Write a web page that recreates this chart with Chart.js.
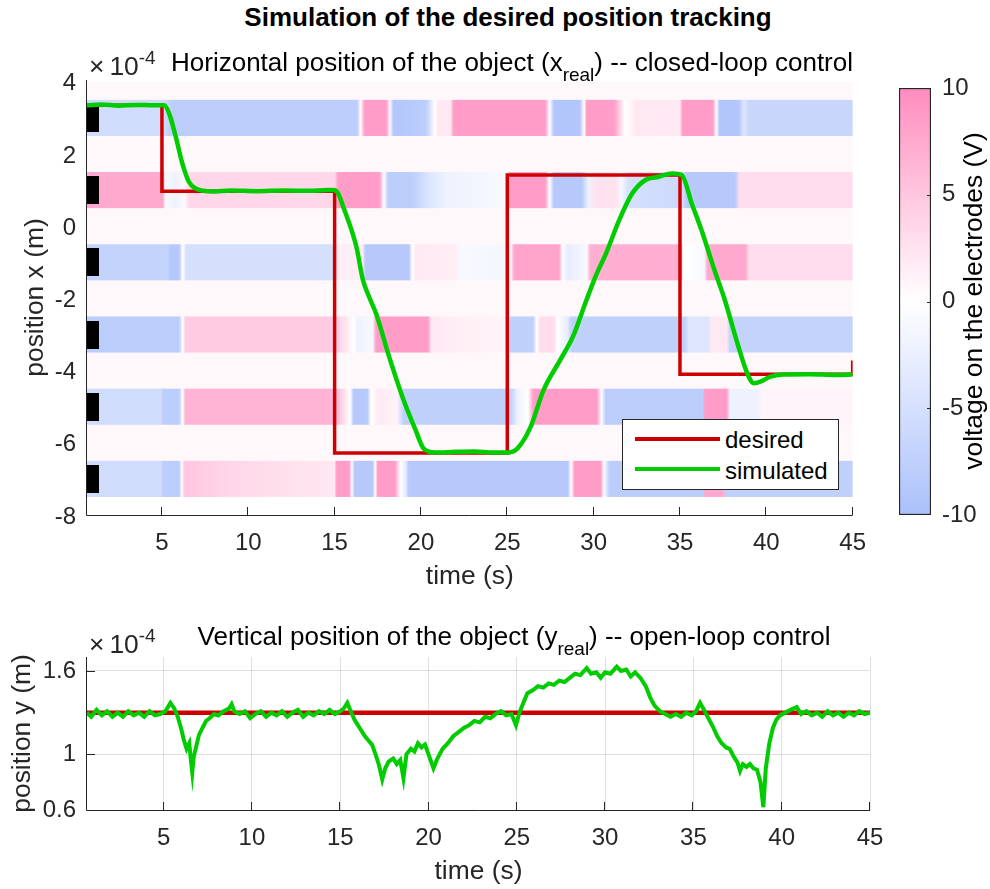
<!DOCTYPE html>
<html>
<head>
<meta charset="utf-8">
<script src="https://cdn.jsdelivr.net/npm/chart.js@4.4.1/dist/chart.umd.min.js"></script>
<style>
  html, body { margin: 0; padding: 0; background: #fff; }
  body { width: 990px; height: 889px; position: relative; overflow: hidden;
         font-family: 'Liberation Sans', Arial, sans-serif; color: #000; }
  canvas { position: absolute; }
  .txt { position: absolute; white-space: nowrap; line-height: 1; }
  .sub { position: relative; top: 10px; font-size: 19px; }
  .sup { position: relative; top: -11px; font-size: 19px; }
  #legend { position: absolute; left: 622px; top: 419px; width: 215px; height: 69px;
            border: 1px solid #262626; background: #fff; }
  #legend .ln { position: absolute; left: 12px; width: 85px; height: 4px; }
  #legend .lb { position: absolute; left: 102px; font-size: 24px; line-height: 1; color: #000; }
</style>
</head>
<body>
<canvas id="xChart" width="880" height="539" style="left:0;top:54px"></canvas>
<canvas id="cbar" width="110" height="481" style="left:880px;top:60px"></canvas>
<canvas id="yChart" width="990" height="269" style="left:0;top:620px"></canvas>

<div class="txt" style="left:208px;top:4px;width:600px;text-align:center;font-weight:bold;font-size:26px">Simulation of the desired position tracking</div>
<div class="txt" style="left:162px;top:49px;width:700px;text-align:center;font-size:26px">Horizontal position of the object (x<span class="sub">real</span>) -- closed-loop control</div>
<div class="txt" style="left:89px;top:53px;font-size:26.4px;color:#262626">×<span style="margin-left:5px">10</span><span class="sup">-4</span></div>
<div class="txt" style="left:164px;top:623px;width:700px;text-align:center;font-size:26px">Vertical position of the object (y<span class="sub">real</span>) -- open-loop control</div>
<div class="txt" style="left:89px;top:631px;font-size:26.4px;color:#262626">×<span style="margin-left:5px">10</span><span class="sup">-4</span></div>
<div class="txt" style="left:773px;top:286px;width:400px;text-align:center;font-size:26.4px;line-height:30px;transform:rotate(-90deg);color:#000">voltage on the electrodes (V)</div>

<div id="legend">
  <span class="ln" style="top:17px;background:#cc0000"></span>
  <span class="lb" style="top:8px">desired</span>
  <span class="ln" style="top:47px;background:#00cc00"></span>
  <span class="lb" style="top:39px">simulated</span>
</div>

<script>
// Position tracking figure: x position over an electrode voltage map (top),
// colorbar for the voltages, and the open-loop y position (bottom).

const tMin = 0.66;
const tMax = 45;
const timeTicks = [5, 10, 15, 20, 25, 30, 35, 40, 45];
const posXTicks = [-8, -6, -4, -2, 0, 2, 4];
const posYTicks = [0.6, 1, 1.6];
const voltTicks = [-10, -5, 0, 5, 10];

// desired / simulated x position, ×1e-4 m, as [time, value]
const desiredX = [[0.66, 3.35], [5, 3.35], [5, 0.97], [15, 0.97], [15, -6.28], [25, -6.28],
  [25, 1.42], [35, 1.42], [35, -4.1], [45, -4.1], [45, -3.72]];
const simulatedX = [[0.66, 3.35], [1.5, 3.37], [2.5, 3.34], [3.5, 3.36], [4.5, 3.35], [5.13, 3.35],
  [5.42, 3.12], [5.8, 2.48], [6.18, 1.74], [6.56, 1.23], [6.94, 1.05], [7.4, 0.98], [7.9, 0.96],
  [9, 0.99], [10.5, 0.97], [12, 0.99], [13.5, 0.98], [14.6, 1.0], [14.93, 1.0], [15.2, 0.91],
  [15.5, 0.54], [16.26, -0.57], [16.64, -1.49], [17.0, -1.96], [17.4, -2.42], [18.16, -3.62],
  [18.93, -4.73], [19.69, -5.65], [20.16, -6.16], [20.83, -6.27], [22, -6.25], [23.1, -6.24],
  [24.2, -6.27], [25.0, -6.27], [25.58, -6.16], [26.35, -5.56], [27.1, -4.54], [28.06, -3.71],
  [28.8, -3.06], [29.58, -2.05], [30.15, -1.35], [30.72, -0.75], [31.48, 0.17], [32.24, 0.91],
  [33.0, 1.28], [33.77, 1.37], [34.53, 1.46], [35.1, 1.42], [35.68, 0.63], [36.25, -0.11],
  [37.0, -1.22], [37.6, -2.05], [38.33, -3.25], [38.9, -4.08], [39.28, -4.35], [39.7, -4.3],
  [40.23, -4.17], [41.0, -4.11], [42.5, -4.1], [44, -4.12], [45, -4.11]];

// electrode markers (black blocks at the left edge)
const electrodeT = 1.0;
const electrodePos = [3, 1, -1, -3, -5, -7];

// electrode voltage (V) over time, one strip per electrode, [time, volts]
const bandCenters = [3, 1, -1, -3, -5, -7];
const band1 = [[0.66, -5.5], [5.1, -5.5], [5.6, -8], [16.3, -8], [16.5, 0.5], [16.75, 8.5], [18.0, 8.5],
  [18.2, 0.5], [18.4, -9], [20.3, -8], [20.8, 0], [21.0, 2], [21.7, 2], [21.9, 8.5], [27.2, 8.5],
  [27.45, 0], [27.7, -9], [29.2, -9], [29.45, 0], [29.6, 8.5], [31.2, 8.5], [31.8, 0], [32.2, 1],
  [32.4, 2], [35.0, 2], [35.15, 8.5], [36.9, 8.5], [37.1, 0], [37.3, -9], [38.4, -9], [38.7, -4],
  [39.0, -6.5], [45, -6.5]];
const band2 = [[0.66, 7.5], [5.05, 7.5], [5.2, -1], [5.8, -2], [6.3, 0.5], [6.6, 3.5], [15.0, 3.5],
  [15.2, 8.5], [17.6, 8.5], [17.85, 0], [18.1, -8], [19.5, -8], [20.5, -4], [21.5, -2], [24.8, -1],
  [25.0, 0], [25.15, 8.5], [27.2, 8.5], [27.45, 0], [27.7, -8.5], [29.3, -8.5], [29.7, -2], [30.1, 2.5],
  [31.3, 2.5], [31.6, -1], [32.0, -5], [35.2, -6], [35.4, -8.5], [38.2, -8.5], [38.45, 3], [45, 3]];
const band3 = [[0.66, -7], [5.3, -7], [5.5, -8.5], [6.0, -8.5], [6.2, 0], [6.4, -5], [15.0, -5],
  [15.2, 1.5], [16.6, 1.5], [16.8, -8.5], [19.3, -8.5], [19.5, 0], [19.7, 2], [22.0, 1.5], [22.3, -1],
  [25.2, -1.5], [25.4, 8], [28.0, 8], [28.2, 0], [28.5, -3], [29.6, -1], [29.8, 7], [35.0, 7], [35.2, 0],
  [36.4, -1], [36.6, 7.5], [38.8, 7.5], [39.0, 3], [45, 3]];
const band4 = [[0.66, -8], [6.0, -8], [6.2, 0], [6.35, 4.5], [15.0, 4.5], [15.5, 3], [16.1, 0],
  [16.3, -2], [17.2, -1], [17.4, 8.5], [20.4, 8.5], [20.6, 2], [22.0, 1.5], [25.0, 1], [25.2, -7.5],
  [26.5, -7.5], [26.7, 0], [26.9, 3], [27.7, 3], [27.9, 0], [28.5, -3], [28.7, -7.5], [35.3, -7.5],
  [35.5, -4], [36.7, -4], [36.8, 2], [37.7, 2], [37.9, -7], [45, -7]];
const band5 = [[0.66, -5.5], [4.9, -5.5], [5.1, -8], [6.0, -8], [6.2, 0], [6.35, 6.5], [15.0, 6.5],
  [15.4, 4], [15.9, 0], [16.1, -8.5], [16.9, -8.5], [17.1, 0], [17.6, 2], [18.6, 1], [19.0, -7.5],
  [25.2, -7.5], [25.6, -2], [26.2, 0], [26.5, 8.5], [30.2, 8.5], [30.45, 0], [30.7, -8], [36.3, -8],
  [36.45, 8.5], [37.7, 8.5], [37.9, -2], [39.5, -2], [39.8, 1], [45, 1]];
const band6 = [[0.66, -5.5], [4.9, -5.5], [5.1, -8], [6.0, -8], [6.15, 0], [6.3, 5], [9, 3.5],
  [15.0, 2], [15.1, 8.5], [15.85, 8.5], [16.0, 0], [16.15, -8.5], [17.2, -8.5], [17.35, 0], [17.5, 8.5],
  [18.5, 8.5], [18.8, 0], [19.1, -3], [19.3, -8.5], [28.5, -8.5], [28.7, 0], [28.9, 8.5], [30.4, 8.5],
  [30.6, 0], [30.9, -8], [36.3, -8], [36.45, 7.5], [37.5, 7.5], [37.7, -7.5], [45, -7.5]];
const bands = [band1, band2, band3, band4, band5, band6];
const gapVolt = 0.6;      // voltage shown in the strips between electrodes
const heatTop = 4.0;
const heatBottom = -7.5;

// vertical position, ×1e-4 m
const desiredY = [[0.66, 1.3], [45, 1.3]];
const simulatedY = [[0.66, 1.30], [0.9, 1.27], [1.2, 1.32], [1.5, 1.28], [1.8, 1.31], [2.1, 1.27],
  [2.4, 1.30], [2.7, 1.27], [3.0, 1.31], [3.3, 1.28], [3.6, 1.30], [3.9, 1.27], [4.2, 1.31], [4.5, 1.28],
  [4.8, 1.29], [5.1, 1.31], [5.38, 1.37], [5.6, 1.33], [5.8, 1.27], [6.0, 1.18], [6.15, 1.10], [6.3, 1.04],
  [6.45, 1.08], [6.55, 0.95], [6.62, 0.87], [6.7, 0.98], [6.85, 1.06], [7.0, 1.14], [7.2, 1.19], [7.4, 1.24],
  [7.6, 1.26], [7.85, 1.29], [8.1, 1.28], [8.4, 1.31], [8.7, 1.33], [8.85, 1.36], [9.0, 1.31], [9.3, 1.29],
  [9.6, 1.31], [9.9, 1.26], [10.2, 1.29], [10.5, 1.31], [10.8, 1.27], [11.1, 1.30], [11.4, 1.28],
  [11.7, 1.31], [12.0, 1.27], [12.3, 1.30], [12.6, 1.32], [12.9, 1.27], [13.2, 1.30], [13.5, 1.28],
  [13.8, 1.31], [14.1, 1.29], [14.4, 1.32], [14.7, 1.29], [15.0, 1.31], [15.2, 1.33], [15.4, 1.37],
  [15.6, 1.31], [15.8, 1.25], [16.0, 1.21], [16.2, 1.17], [16.4, 1.13], [16.6, 1.10], [16.8, 1.07],
  [17.0, 1.00], [17.2, 0.92], [17.38, 0.82], [17.55, 0.90], [17.75, 0.95], [18.0, 0.97], [18.2, 0.93],
  [18.4, 0.96], [18.58, 0.83], [18.75, 1.00], [19.0, 1.04], [19.2, 1.02], [19.4, 1.08], [19.6, 1.05],
  [19.8, 1.07], [20.0, 1.00], [20.28, 0.90], [20.5, 0.97], [20.8, 1.04], [21.1, 1.08], [21.4, 1.13],
  [21.7, 1.16], [22.0, 1.19], [22.3, 1.21], [22.6, 1.24], [22.9, 1.23], [23.2, 1.27], [23.5, 1.26],
  [23.8, 1.29], [24.1, 1.31], [24.4, 1.28], [24.7, 1.29], [24.95, 1.21], [25.15, 1.30], [25.4, 1.38],
  [25.6, 1.44], [25.9, 1.46], [26.2, 1.49], [26.5, 1.48], [26.8, 1.51], [27.1, 1.50], [27.4, 1.53],
  [27.7, 1.52], [28.0, 1.55], [28.3, 1.58], [28.6, 1.57], [28.96, 1.62], [29.2, 1.58], [29.5, 1.59],
  [29.75, 1.55], [30.0, 1.59], [30.3, 1.58], [30.66, 1.63], [30.9, 1.60], [31.2, 1.61], [31.45, 1.56],
  [31.7, 1.59], [32.0, 1.55], [32.3, 1.49], [32.55, 1.41], [32.8, 1.35], [33.1, 1.31], [33.4, 1.29],
  [33.7, 1.27], [34.0, 1.29], [34.3, 1.27], [34.6, 1.30], [34.9, 1.28], [35.15, 1.31], [35.38, 1.37],
  [35.6, 1.32], [35.85, 1.26], [36.1, 1.20], [36.35, 1.13], [36.6, 1.08], [36.85, 1.05], [37.05, 1.04],
  [37.3, 0.98], [37.5, 0.94], [37.64, 0.88], [37.8, 0.93], [38.0, 0.91], [38.2, 0.93], [38.4, 0.90],
  [38.6, 0.89], [38.8, 0.80], [38.96, 0.62], [39.1, 0.90], [39.3, 1.08], [39.5, 1.19], [39.7, 1.25],
  [39.9, 1.28], [40.2, 1.30], [40.5, 1.32], [40.85, 1.34], [41.1, 1.29], [41.4, 1.31], [41.7, 1.28],
  [42.0, 1.30], [42.3, 1.27], [42.6, 1.31], [42.9, 1.28], [43.2, 1.30], [43.5, 1.27], [43.8, 1.30],
  [44.1, 1.28], [44.4, 1.31], [44.7, 1.29], [45.0, 1.30]];

const dark = '#262626';
const red = '#cc0000';
const green = '#00cc00';
const negColor = [170, 192, 250];  // -10 V
const posColor = [255, 140, 190];  // +10 V

Chart.defaults.font.family = "'Liberation Sans', Arial, sans-serif";
Chart.defaults.color = dark;

function voltColor(v) {
  const c = v >= 0 ? posColor : negColor;
  const f = Math.min(Math.abs(v) / 10, 1);
  const ch = (i) => Math.round(255 + (c[i] - 255) * f);
  return `rgb(${ch(0)},${ch(1)},${ch(2)})`;
}

const xy = (pairs) => pairs.map(([x, y]) => ({ x, y }));
const fixTicks = (vals) => (scale) => { scale.ticks = vals.map((value) => ({ value })); };

// MATLAB-style inward tick marks, drawn under the data
const inTicks = {
  id: 'inTicks',
  beforeDatasetsDraw(chart) {
    const { ctx, chartArea: a, scales: { x, y } } = chart;
    ctx.save();
    ctx.strokeStyle = dark;
    ctx.lineWidth = 1;
    ctx.beginPath();
    x.ticks.forEach((t) => {
      const px = Math.round(x.getPixelForValue(t.value)) - 0.5;
      ctx.moveTo(px, a.bottom); ctx.lineTo(px, a.bottom - 8);
    });
    y.ticks.forEach((t) => {
      const py = Math.round(y.getPixelForValue(t.value)) + 0.5;
      ctx.moveTo(a.left, py); ctx.lineTo(a.left + 8, py);
    });
    ctx.stroke();
    ctx.restore();
  },
};

// electrode voltage strips behind the curves
const heatmap = {
  id: 'heatmap',
  beforeDatasetsDraw(chart) {
    const { ctx, chartArea: a, scales: { x, y } } = chart;
    ctx.save();
    ctx.beginPath(); ctx.rect(a.left, a.top, a.width, a.height); ctx.clip();
    const xl = x.getPixelForValue(tMin), xr = x.getPixelForValue(tMax);
    const yt = y.getPixelForValue(heatTop), yb = y.getPixelForValue(heatBottom);
    ctx.fillStyle = voltColor(gapVolt);
    ctx.fillRect(xl, yt, xr - xl, yb - yt);
    bands.forEach((knots, i) => {
      const ya = y.getPixelForValue(bandCenters[i] + 0.5);
      const yz = y.getPixelForValue(bandCenters[i] - 0.5);
      for (let k = 0; k < knots.length - 1; k++) {
        const [t0, v0] = knots[k], [t1, v1] = knots[k + 1];
        const p0 = x.getPixelForValue(t0), p1 = x.getPixelForValue(t1);
        if (v0 === v1) {
          ctx.fillStyle = voltColor(v0);
        } else {
          const g = ctx.createLinearGradient(p0, 0, p1, 0);
          g.addColorStop(0, voltColor(v0));
          g.addColorStop(1, voltColor(v1));
          ctx.fillStyle = g;
        }
        ctx.fillRect(p0, ya, p1 - p0 + 0.4, yz - ya);
      }
    });
    ctx.restore();
  },
};

// left and bottom axis lines on top of everything
const frame = {
  id: 'frame',
  afterDatasetsDraw(chart) {
    const { ctx, chartArea: a } = chart;
    ctx.save();
    ctx.strokeStyle = dark;
    ctx.lineWidth = 1;
    ctx.beginPath();
    ctx.moveTo(a.left - 0.5, a.top);
    ctx.lineTo(a.left - 0.5, a.bottom + 0.5);
    ctx.lineTo(a.right, a.bottom + 0.5);
    ctx.stroke();
    ctx.restore();
  },
};

const block = document.createElement('canvas');
block.width = 13; block.height = 28;
block.getContext('2d').fillRect(0, 0, 13, 28);

function axisX(afterFitHeight, titlePadBottom, gridOn) {
  return {
    type: 'linear', min: tMin, max: tMax,
    afterBuildTicks: fixTicks(timeTicks),
    afterFit: (s) => { s.height = afterFitHeight; },
    grid: { drawOnChartArea: gridOn, drawTicks: false, color: 'rgba(38,38,38,0.15)' },
    border: { display: false },
    ticks: { font: { size: 24 }, padding: 14, maxRotation: 0, autoSkip: false, callback: (v) => String(v) },
    title: { display: true, text: 'time (s)', font: { size: 26.4 }, padding: { top: 0, bottom: titlePadBottom } },
  };
}

new Chart(document.getElementById('xChart'), {
  type: 'line',
  data: {
    datasets: [
      { type: 'scatter', data: electrodePos.map((p) => ({ x: electrodeT, y: p })), pointStyle: block,
        pointRadius: 7, order: 3, clip: false },
      { data: xy(desiredX), borderColor: red, borderWidth: 3.5, pointRadius: 0, order: 2,
        borderJoinStyle: 'miter', tension: 0 },
      { data: xy(simulatedX), borderColor: green, borderWidth: 4.5, pointRadius: 0, order: 1,
        cubicInterpolationMode: 'monotone' },
    ],
  },
  options: {
    responsive: false,
    animation: false,
    layout: { padding: { top: 26, right: 16, left: 0, bottom: 0 } },
    plugins: { legend: { display: false }, tooltip: { enabled: false } },
    scales: {
      x: axisX(78, 0, false),
      y: {
        type: 'linear', min: -8, max: 4.05,
        afterBuildTicks: fixTicks(posXTicks),
        afterFit: (s) => { s.width = 87; },
        grid: { drawOnChartArea: false, drawTicks: false },
        border: { display: false },
        ticks: { font: { size: 24 }, padding: 11, labelOffset: 2, callback: (v) => String(v) },
        title: { display: true, text: 'position x (m)', font: { size: 26.4 }, padding: { top: 20, bottom: 0 } },
      },
    },
  },
  plugins: [inTicks, heatmap, frame],
});

// colorbar
new Chart(document.getElementById('cbar'), {
  type: 'bar',
  data: {
    labels: ['V'],
    datasets: [{
      data: [[-10, 10]],
      backgroundColor: (c) => {
        const a = c.chart.chartArea;
        if (!a) return null;
        const g = c.chart.ctx.createLinearGradient(0, a.bottom, 0, a.top);
        voltTicks.forEach((v) => g.addColorStop((v + 10) / 20, voltColor(v)));
        return g;
      },
      borderColor: dark, borderWidth: 1.5, borderSkipped: false,
      barPercentage: 1, categoryPercentage: 1,
    }],
  },
  options: {
    responsive: false,
    animation: false,
    layout: { padding: { top: 28, bottom: 26, left: 19, right: 0 } },
    plugins: { legend: { display: false }, tooltip: { enabled: false } },
    scales: {
      x: { display: false },
      y: {
        position: 'right', min: -10, max: 10,
        afterBuildTicks: fixTicks(voltTicks),
        afterFit: (s) => { s.width = 59; },
        grid: { display: false, drawTicks: false },
        border: { display: false },
        ticks: { font: { size: 24 }, padding: 11, callback: (v) => String(v) },
      },
    },
  },
  plugins: [{
    id: 'cbTicks',
    afterDatasetsDraw(chart) {
      const { ctx, chartArea: a, scales: { y } } = chart;
      ctx.save();
      ctx.strokeStyle = dark;
      ctx.lineWidth = 1;
      ctx.beginPath();
      y.ticks.forEach((t) => {
        if (t.value === -10 || t.value === 10) return;
        const py = Math.round(y.getPixelForValue(t.value)) + 0.5;
        ctx.moveTo(a.right - 4, py); ctx.lineTo(a.right, py);
      });
      ctx.stroke();
      ctx.restore();
    },
  }],
});

new Chart(document.getElementById('yChart'), {
  type: 'line',
  data: {
    datasets: [
      { data: xy(desiredY), borderColor: red, borderWidth: 4.5, pointRadius: 0, order: 2 },
      { data: xy(simulatedY), borderColor: green, borderWidth: 4, pointRadius: 0, order: 1, tension: 0 },
    ],
  },
  options: {
    responsive: false,
    animation: false,
    layout: { padding: { top: 37, right: 120, left: 0, bottom: 0 } },
    plugins: { legend: { display: false }, tooltip: { enabled: false } },
    scales: {
      x: axisX(79, 1, true),
      y: {
        type: 'linear', min: 0.6, max: 1.7,
        afterBuildTicks: fixTicks(posYTicks),
        afterFit: (s) => { s.width = 87; },
        grid: { drawTicks: false, color: 'rgba(38,38,38,0.15)' },
        border: { display: false },
        ticks: { font: { size: 24 }, padding: 11, callback: (v) => String(v) },
        title: { display: true, text: 'position y (m)', font: { size: 26.4 }, padding: { top: 7, bottom: 0 } },
      },
    },
  },
  plugins: [inTicks, frame],
});
</script>
</body>
</html>
